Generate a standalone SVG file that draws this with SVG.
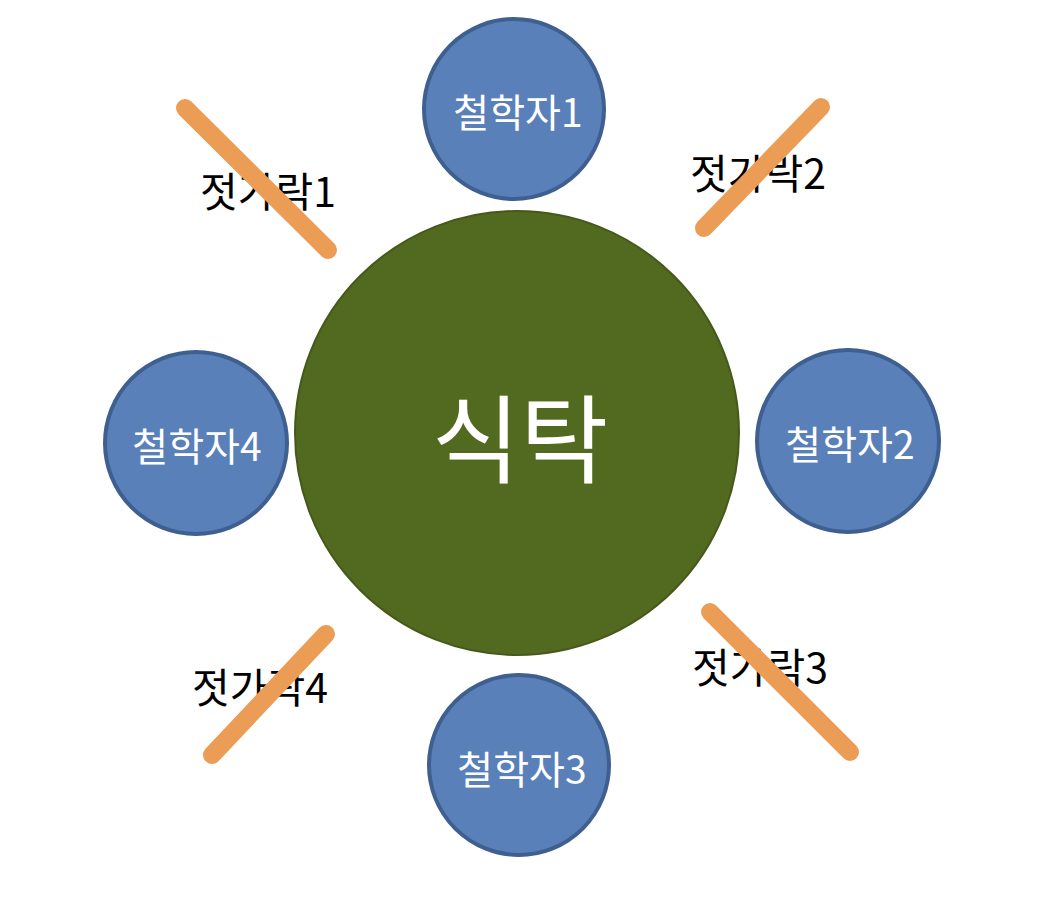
<svg xmlns="http://www.w3.org/2000/svg" width="1050" height="910" viewBox="0 0 1050 910">
<style>
.ph{fill:#5A80BA;stroke:#3E5F8F;stroke-width:4}
.tbl{fill:#526A1F;stroke:#46591A;stroke-width:2}
.stick{stroke:#EB9C55;stroke-width:18;stroke-linecap:round;fill:none}
.wt{fill:#fff;font-family:"Noto Sans CJK KR","Noto Sans",sans-serif;text-anchor:middle;dominant-baseline:central}
.bt{fill:#000;font-family:"Noto Sans CJK KR","Noto Sans",sans-serif;font-size:41px;font-weight:400;text-anchor:middle;dominant-baseline:central}
</style>
<rect width="1050" height="910" fill="#fff"/>
<g id="table"><circle class="tbl" cx="517" cy="433" r="222"/><text class="wt" x="520" y="433" font-size="96">식탁</text></g>
<g id="philosopher1"><circle class="ph" cx="514" cy="109" r="90"/><text class="wt" x="518" y="110" font-size="39">철학자1</text></g>
<g id="philosopher2"><circle class="ph" cx="848" cy="441" r="91"/><text class="wt" x="850" y="442" font-size="39">철학자2</text></g>
<g id="philosopher3"><circle class="ph" cx="519" cy="765" r="90"/><text class="wt" x="522" y="767" font-size="39">철학자3</text></g>
<g id="philosopher4"><circle class="ph" cx="196" cy="443" r="91"/><text class="wt" x="197" y="444" font-size="39">철학자4</text></g>
<g id="chopstick1"><text class="bt" x="268" y="189">젓가락1</text><line class="stick" x1="185" y1="108" x2="328" y2="250"/></g>
<g id="chopstick2"><text class="bt" x="758" y="171">젓가락2</text><line class="stick" x1="821" y1="107" x2="704" y2="228"/></g>
<g id="chopstick3"><text class="bt" x="760" y="665">젓가락3</text><line class="stick" x1="710" y1="612" x2="850" y2="752"/></g>
<g id="chopstick4"><text class="bt" x="260" y="685">젓가락4</text><line class="stick" x1="326" y1="634" x2="212" y2="755"/></g>
<g id="connectors"></g>
</svg>
